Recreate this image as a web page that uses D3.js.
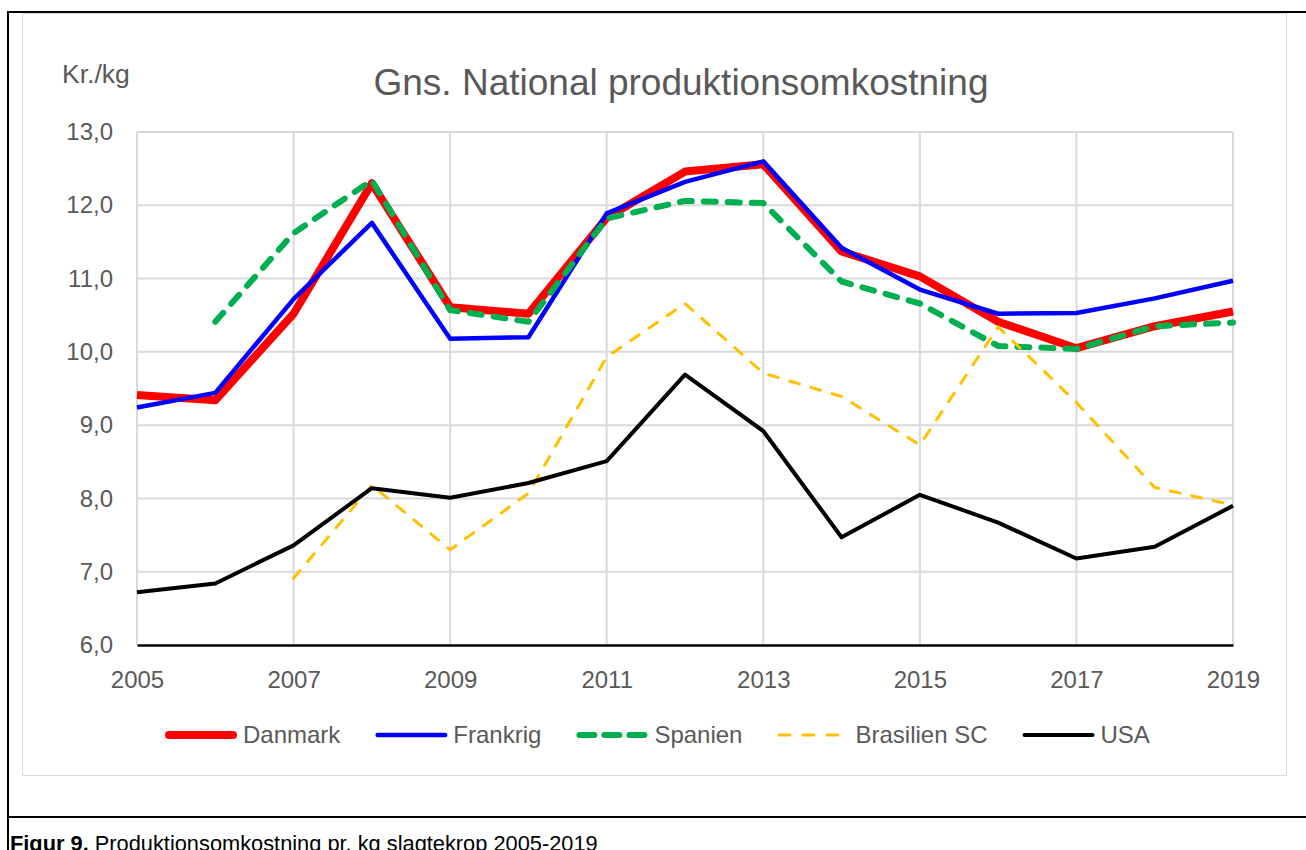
<!DOCTYPE html>
<html>
<head>
<meta charset="utf-8">
<script src="https://cdn.jsdelivr.net/npm/d3@7"></script>
<style>
  body { margin: 0; background: #fff; }
  svg { display: block; font-family: "Liberation Sans", Arial, sans-serif; }
</style>
</head>
<body>
<div id="chart"></div>
<script>
// data
var years = [2005, 2006, 2007, 2008, 2009, 2010, 2011, 2012, 2013, 2014, 2015, 2016, 2017, 2018, 2019];
var danmark = [9.41, 9.34, 10.52, 12.30, 10.61, 10.52, 11.83, 12.46, 12.56, 11.37, 11.03, 10.41, 10.05, 10.35, 10.55];
var frankrig = [9.24, 9.44, 10.72, 11.76, 10.18, 10.20, 11.89, 12.32, 12.60, 11.42, 10.85, 10.52, 10.53, 10.73, 10.97];
var spanien = [null, 10.41, 11.62, 12.34, 10.57, 10.41, 11.82, 12.06, 12.03, 10.96, 10.66, 10.08, 10.04, 10.35, 10.40];
var brasilien = [null, null, 6.91, 8.18, 7.30, 8.07, 9.93, 10.66, 9.71, 9.39, 8.73, 10.34, 9.31, 8.15, 7.91];
var usa = [6.72, 6.84, 7.36, 8.14, 8.01, 8.21, 8.51, 9.69, 8.92, 7.47, 8.05, 7.67, 7.18, 7.34, 7.90];

var seriesNames = ["Danmark", "Frankrig", "Spanien", "Brasilien SC", "USA"];
var yTicks = [6, 7, 8, 9, 10, 11, 12, 13];
var xTicks = [2005, 2007, 2009, 2011, 2013, 2015, 2017, 2019];

var title = "Gns. National produktionsomkostning";
var unitLabel = "Kr./kg";

// line styles per series (same order as the names)
var styles = [
  { color: "#ff0000", width: 8, dash: null },
  { color: "#0000ff", width: 4.5, dash: null },
  { color: "#00b050", width: 6, dash: "12,12" },
  { color: "#ffc000", width: 3, dash: "10,12" },
  { color: "#000000", width: 4, dash: null }
];

var series = [danmark, frankrig, spanien, brasilien, usa].map(function (vals, i) {
  return { name: seriesNames[i], values: vals, style: styles[i] };
});

var W = 1306, H = 850;
var plot = { left: 137, right: 1233, top: 132, bottom: 645 };
var textColor = "#595959";
var gridColor = "#d9d9d9";

var svg = d3.select("#chart").append("svg")
  .attr("width", W)
  .attr("height", H);

// outer page frame
svg.append("line").attr("x1", 8).attr("x2", W).attr("y1", 12).attr("y2", 12)
  .attr("stroke", "#000").attr("stroke-width", 2);
svg.append("line").attr("x1", 8).attr("x2", 8).attr("y1", 11).attr("y2", H)
  .attr("stroke", "#000").attr("stroke-width", 2);
svg.append("line").attr("x1", 8).attr("x2", W).attr("y1", 817).attr("y2", 817)
  .attr("stroke", "#000").attr("stroke-width", 2);

// chart area border
svg.append("rect")
  .attr("x", 22.5).attr("y", 13.5)
  .attr("width", 1264).attr("height", 762)
  .attr("fill", "#fff")
  .attr("stroke", gridColor)
  .attr("stroke-width", 1);

var x = d3.scaleLinear().domain([2005, 2019]).range([plot.left, plot.right]);
var y = d3.scaleLinear().domain([6, 13]).range([plot.bottom, plot.top]);

var locale = d3.formatLocale({ decimal: ",", thousands: ".", grouping: [3], currency: ["", " kr."] });
var fmt = locale.format(".1f");

// grid
svg.append("g")
  .selectAll("line")
  .data(yTicks.slice(1))
  .enter()
  .append("line")
  .attr("x1", plot.left)
  .attr("x2", plot.right)
  .attr("y1", function (d) { return y(d); })
  .attr("y2", function (d) { return y(d); })
  .attr("stroke", gridColor)
  .attr("stroke-width", 2);

svg.append("g")
  .selectAll("line")
  .data(xTicks)
  .enter()
  .append("line")
  .attr("x1", function (d) { return x(d); })
  .attr("x2", function (d) { return x(d); })
  .attr("y1", plot.top)
  .attr("y2", plot.bottom)
  .attr("stroke", gridColor)
  .attr("stroke-width", 2);

// y axis labels
var yAxis = svg.append("g")
  .attr("transform", "translate(" + plot.left + ",0)")
  .call(d3.axisLeft(y).tickValues(yTicks).tickFormat(fmt).tickSize(0).tickPadding(24));
yAxis.select(".domain").remove();
yAxis.selectAll("text")
  .style("font-size", "24px")
  .style("font-family", "'Liberation Sans', Arial, sans-serif")
  .attr("fill", textColor);

// x axis
var xAxis = svg.append("g")
  .attr("transform", "translate(0," + plot.bottom + ")")
  .call(d3.axisBottom(x).tickValues(xTicks).tickFormat(d3.format("d")).tickSize(0).tickPadding(26));
xAxis.select(".domain")
  .attr("stroke", "#000")
  .attr("stroke-width", 2.5);
xAxis.selectAll("text")
  .style("font-size", "24px")
  .style("font-family", "'Liberation Sans', Arial, sans-serif")
  .attr("fill", textColor);

// title + unit
svg.append("text")
  .attr("x", 681)
  .attr("y", 95)
  .attr("text-anchor", "middle")
  .style("font-size", "37px")
  .attr("fill", textColor)
  .text(title);

svg.append("text")
  .attr("x", 62)
  .attr("y", 83)
  .style("font-size", "26.5px")
  .attr("fill", textColor)
  .text(unitLabel);

// the lines
var line = d3.line()
  .defined(function (d) { return d.v != null; })
  .x(function (d) { return x(d.year); })
  .y(function (d) { return y(d.v); });

svg.append("g")
  .selectAll("path")
  .data(series)
  .enter()
  .append("path")
  .attr("d", function (s) {
    return line(s.values.map(function (v, i) { return { year: years[i], v: v }; }));
  })
  .attr("fill", "none")
  .attr("stroke", function (s) { return s.style.color; })
  .attr("stroke-width", function (s) { return s.style.width; })
  .attr("stroke-dasharray", function (s) { return s.style.dash; })
  .attr("stroke-linejoin", "round")
  .attr("stroke-linecap", function (s) { return s.style.dash ? "round" : "butt"; });

// legend
var legend = svg.append("g").attr("class", "legend");
var lx = 165, legendY = 735, lineLen = 72;
series.forEach(function (s) {
  legend.append("line")
    .attr("x1", lx + s.style.width / 2)
    .attr("x2", lx + lineLen - s.style.width / 2)
    .attr("y1", legendY)
    .attr("y2", legendY)
    .attr("stroke", s.style.color)
    .attr("stroke-width", s.style.width)
    .attr("stroke-dasharray", s.style.dash ? (s.style.width > 4 ? "15,10" : "11,13") : null)
    .attr("stroke-linecap", "round");
  var t = legend.append("text")
    .attr("x", lx + lineLen + 6)
    .attr("y", legendY + 8)
    .style("font-size", "24px")
    .attr("fill", textColor)
    .text(s.name);
  lx += lineLen + 6 + t.node().getComputedTextLength() + 35;
});

// figure caption
var cap = svg.append("text")
  .attr("x", 10)
  .attr("y", 851)
  .style("font-size", "21.8px")
  .attr("fill", "#000");
cap.append("tspan").style("font-weight", "bold").text("Figur 9.");
cap.append("tspan").text(" Produktionsomkostning pr. kg slagtekrop 2005-2019");
</script>
</body>
</html>
